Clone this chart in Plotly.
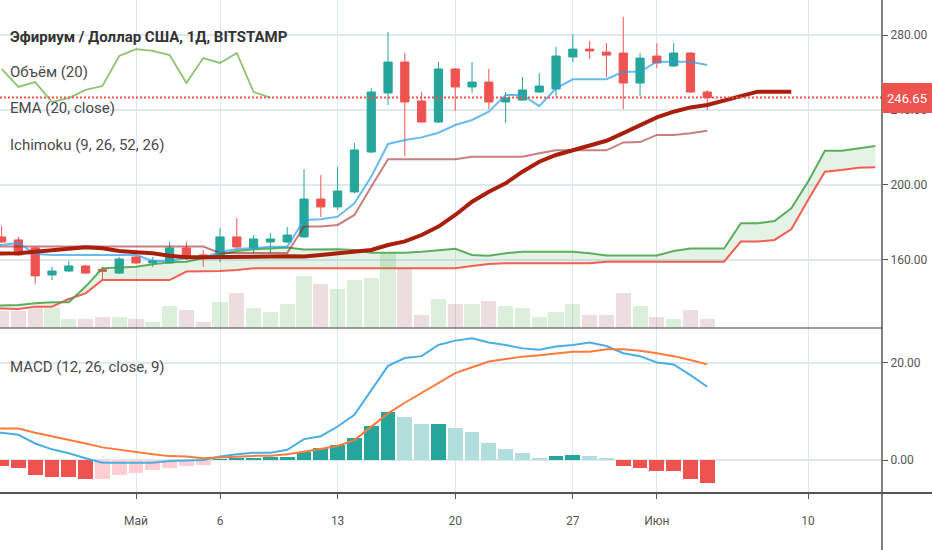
import pandas as pd
import plotly.graph_objects as go

# ---------------- data ----------------
candle_dates = pd.date_range("2019-04-23", periods=43, freq="D")          # Apr 23 .. Jun 4
open_ = [172.3, 170.7, 166.4, 152.0, 154.1, 156.8, 155.0, 153.0, 161.6, 158.4,
         158.4, 166.4, 162.7, 161.1, 172.3, 166.4, 169.6, 169.6, 172.3, 192.5,
         188.3, 196.3, 217.6, 249.1, 265.6, 244.8, 233.6, 261.9, 252.3, 254.9,
         244.3, 245.3, 249.6, 251.2, 268.3, 272.5, 270.9, 270.4, 254.4, 268.8,
         263.5, 270.4, 249.6]
high = [178.1, 172.3, 166.9, 156.3, 159.5, 157.3, 156.3, 161.6, 162.0, 161.6,
        169.6, 169.6, 165.3, 177.1, 182.4, 173.3, 174.4, 177.6, 208.5, 205.3,
        209.6, 222.4, 251.7, 281.6, 270.4, 249.6, 265.6, 262.4, 265.6, 261.9,
        249.6, 257.6, 259.7, 273.6, 280.5, 276.8, 275.7, 289.6, 270.4, 275.7,
        275.7, 270.9, 250.7]
low = [169.1, 162.1, 147.2, 149.3, 153.6, 152.5, 149.3, 152.5, 157.9, 156.3,
       157.9, 160.0, 156.3, 158.9, 166.4, 163.7, 163.7, 169.1, 171.8, 182.9,
       186.7, 195.5, 217.0, 242.7, 215.5, 233.1, 233.1, 239.5, 249.1, 240.5,
       233.1, 244.8, 249.1, 246.9, 265.6, 267.2, 257.6, 240.5, 247.5, 262.4,
       263.0, 249.1, 240.0]
close = [169.6, 162.7, 151.5, 154.1, 156.8, 153.0, 153.9, 160.5, 158.4, 159.5,
         166.4, 161.6, 161.6, 172.3, 166.9, 171.2, 171.2, 173.3, 192.5, 188.3,
         196.8, 218.7, 249.6, 265.6, 244.3, 233.6, 261.9, 252.3, 254.9, 244.3,
         246.4, 250.7, 252.8, 268.8, 272.5, 271.5, 269.3, 254.4, 267.7, 265.1,
         270.4, 249.6, 246.65]
volume = [34, 34, 40, 40, 18, 18, 22, 22, 18, 12,
          44, 36, 12, 52, 70, 40, 32, 48, 104, 88,
          78, 96, 100, 152, 118, 26, 58, 48, 48, 54,
          44, 40, 22, 32, 48, 26, 26, 70, 44, 22,
          18, 36, 18]                                   # thousand ETH

line_dates = pd.date_range("2019-04-22", periods=44, freq="D")            # Apr 22 .. Jun 4
ema_dates = pd.date_range("2019-04-22", periods=49, freq="D")             # Apr 22 .. Jun 9
lead_dates = pd.date_range("2019-04-22", periods=54, freq="D")            # Apr 22 .. Jun 14

ema20 = [163.4, 163.6, 163.6, 164.4, 165.3, 165.9, 166.8, 166.2, 164.8, 164.1,
         163.6, 162.3, 161.4, 161.4, 161.4, 161.8, 161.8, 161.8, 162.0, 161.9,
         162.7, 163.5, 164.4, 165.3, 168.0, 169.9, 173.3, 177.8, 184.0, 191.1,
         196.4, 200.9, 207.1, 212.4, 216.0, 218.7, 221.3, 223.6, 227.7, 232.0,
         236.1, 239.1, 241.4, 242.7, 245.0, 247.5, 249.8, 249.8, 249.8]
tenkan = [168.0, 168.0, 169.1, 163.2, 162.7, 162.7, 162.7, 162.7, 162.7, 162.7,
          159.5, 159.5, 161.1, 161.1, 164.3, 165.9, 166.4, 167.0, 167.0, 181.3,
          181.7, 183.1, 190.2, 204.4, 221.9, 224.0, 225.4, 227.9, 232.0, 234.7,
          239.1, 248.0, 248.0, 242.1, 251.6, 256.4, 256.4, 256.4, 260.4, 260.4,
          265.8, 265.8, 265.8, 264.0]
kijun = [167.2, 167.2, 167.2, 167.2, 167.2, 167.2, 167.2, 167.2, 167.2, 167.2,
         167.2, 167.2, 167.2, 167.2, 163.7, 163.7, 163.7, 163.7, 163.7, 177.8,
         177.8, 178.7, 184.0, 199.1, 213.7, 213.7, 213.7, 213.7, 213.7, 215.1,
         215.1, 215.1, 215.1, 216.9, 218.5, 218.5, 218.5, 218.5, 222.7, 222.9,
         226.7, 226.7, 227.6, 229.0]
lead_a = [135.5, 135.6, 136.0, 136.9, 137.4, 137.4, 145.8, 155.6, 155.9, 156.4,
          157.7, 158.8, 159.1, 160.9, 163.0, 164.8, 165.7, 166.2, 166.6, 165.6,
          165.7, 165.7, 165.3, 163.9, 163.9, 163.9, 164.4, 165.3, 166.0, 162.7,
          162.3, 163.6, 164.4, 164.4, 164.4, 164.4, 163.6, 162.4, 162.4, 162.4,
          162.4, 164.8, 166.1, 166.1, 166.1, 179.6, 179.6, 180.8, 187.6, 201.8,
          218.3, 218.3, 219.6, 220.8]
lead_b = [134.3, 134.2, 133.9, 135.1, 135.1, 139.2, 142.2, 149.3, 149.3, 149.3,
          149.3, 149.3, 153.8, 153.8, 154.1, 154.7, 155.6, 155.6, 155.6, 155.6,
          155.6, 155.6, 155.6, 155.6, 155.6, 155.6, 155.6, 155.6, 155.6, 156.8,
          157.9, 158.2, 158.2, 158.2, 158.2, 158.2, 158.2, 159.1, 159.1, 159.1,
          159.1, 159.1, 159.1, 159.1, 159.1, 169.8, 169.8, 170.7, 176.4, 192.0,
          207.1, 208.0, 209.2, 209.4]
lag_shift = 26

macd = [5.7, 5.6, 5.2, 3.4, 2.2, 1.4, 0.35, -0.55, -0.55, -0.55,
        -0.55, -0.2, -0.15, 0.0, 0.7, 1.2, 1.5, 1.5, 2.1, 4.3,
        4.9, 6.9, 9.3, 14.4, 19.4, 21.0, 21.4, 23.7, 24.6, 25.1,
        24.2, 23.7, 23.0, 22.7, 23.4, 23.7, 24.2, 23.5, 22.0, 21.4,
        20.1, 19.7, 17.5, 15.1]
signal = [6.5, 6.5, 6.5, 5.6, 4.9, 4.1, 3.4, 2.6, 2.1, 1.7,
          1.2, 0.8, 0.7, 0.35, 0.55, 0.8, 0.85, 0.9, 1.2, 1.7,
          2.3, 2.9, 4.1, 6.9, 9.6, 11.8, 13.8, 15.8, 17.9, 19.1,
          20.3, 20.8, 21.3, 21.6, 22.0, 22.3, 22.3, 22.8, 22.8, 22.5,
          22.0, 21.4, 20.6, 19.7]
hist = [-1.2, -1.7, -3.1, -3.4, -3.45, -4.0, -3.9, -3.1, -2.6, -2.1,
        -1.7, -1.2, -1.0, 0.1, 0.4, 0.5, 0.6, 0.7, 1.7, 2.4,
        3.1, 4.5, 7.1, 9.8, 8.8, 7.4, 7.5, 6.6, 5.7, 3.6,
        2.3, 1.4, 0.5, 0.9, 0.95, 0.85, 0.5, -1.2, -1.7, -2.2,
        -2.25, -4.0, -4.8]

x_tick_dates = ["2019-05-01", "2019-05-06", "2019-05-13", "2019-05-20",
                "2019-05-27", "2019-06-01", "2019-06-10"]
x_tick_text = ["Май", "6", "13", "20", "27", "Июн", "10"]
price_ticks = [160, 200, 240, 280]
macd_ticks = [0, 20]
last_price = 246.65
x_range = ["2019-04-22 21:43", "2019-06-14 09:36"]
price_range = [123.7, 298.7]
macd_range = [-6.8, 27.2]

legend_lines = ["Объём (20)", "EMA (20, close)", "Ichimoku (9, 26, 52, 26)"]
title_text = "Эфириум / Доллар США, 1Д, BITSTAMP"
macd_text = "MACD (12, 26, close, 9)"

# ---------------- styling ----------------
UP, DOWN = "#26a69a", "#ef5350"
GRID = "#dde8f0"
FONT = "Roboto, sans-serif"
TXT = "#4a4a4a"
DAY_MS = 86400000
PLOT_H = 493
split = (PLOT_H - 328) / PLOT_H

fig = go.Figure()

# Ichimoku cloud (leading spans)
fig.add_trace(go.Scatter(x=lead_dates, y=lead_b, mode="lines",
                         line=dict(color="rgba(244,67,54,0.85)", width=2), hoverinfo="skip"))
fig.add_trace(go.Scatter(x=lead_dates, y=lead_a, mode="lines", fill="tonexty",
                         fillcolor="rgba(76,175,80,0.15)",
                         line=dict(color="rgba(67,160,71,0.85)", width=2), hoverinfo="skip"))
# lagging span
fig.add_trace(go.Scatter(x=candle_dates[:-lag_shift], y=close[lag_shift:], mode="lines",
                         line=dict(color="rgba(69,153,21,0.6)", width=1.8)))
# base line / conversion line
fig.add_trace(go.Scatter(x=line_dates, y=kijun, mode="lines",
                         line=dict(color="rgba(153,21,21,0.55)", width=2)))
fig.add_trace(go.Scatter(x=line_dates, y=tenkan, mode="lines",
                         line=dict(color="rgba(40,160,230,0.7)", width=2)))
# candles
fig.add_trace(go.Candlestick(x=candle_dates, open=open_, high=high, low=low, close=close,
                             increasing=dict(line=dict(color=UP, width=1), fillcolor=UP),
                             decreasing=dict(line=dict(color=DOWN, width=1), fillcolor=DOWN),
                             whiskerwidth=0))
# EMA 20
fig.add_trace(go.Scatter(x=ema_dates, y=ema20, mode="lines",
                         line=dict(color="#a8200d", width=4)))
# volume (overlay axis)
vol_colors = ["rgba(76,175,80,0.2)" if c >= o else "rgba(160,90,90,0.2)"
              for o, c in zip(open_, close)]
fig.add_trace(go.Bar(x=candle_dates, y=volume, yaxis="y3", marker=dict(color=vol_colors, line=dict(width=0)),
                     width=0.9 * DAY_MS))

# MACD histogram
hcol = []
for i, h in enumerate(hist):
    prev = hist[i - 1] if i > 0 else h
    if h >= 0:
        hcol.append("#26a69a" if h >= prev else "#b2dfdb")
    else:
        hcol.append("#ef5350" if h < prev or i == 0 else "#ffcdd2")
fig.add_trace(go.Bar(x=candle_dates, y=hist, yaxis="y2", marker=dict(color=hcol, line=dict(width=0)),
                     width=0.88 * DAY_MS))
fig.add_trace(go.Scatter(x=line_dates, y=macd, yaxis="y2", mode="lines",
                         line=dict(color="#4aaee6", width=2)))
fig.add_trace(go.Scatter(x=line_dates, y=signal, yaxis="y2", mode="lines",
                         line=dict(color="#ff7a3c", width=2)))

tickfont = dict(family=FONT, size=12, color="#555")
fig.update_layout(
    width=932, height=550,
    margin=dict(l=0, r=50, t=0, b=57),
    paper_bgcolor="white", plot_bgcolor="white",
    showlegend=False, bargap=0, hovermode=False,
    xaxis=dict(type="date", range=x_range, anchor="y2",
               tickvals=x_tick_dates, ticktext=x_tick_text,
               ticks="outside", ticklen=5, tickcolor="#555", tickwidth=1,
               showgrid=True, gridcolor=GRID, gridwidth=1,
               showline=False, zeroline=False, tickfont=tickfont,
               ticklabelstandoff=12, automargin=False,
               rangeslider=dict(visible=False)),
    yaxis=dict(domain=[split, 1], range=price_range, side="right", anchor="x",
               tickvals=price_ticks, ticktext=[f"{v:.2f}" for v in price_ticks],
               ticks="outside", ticklen=5, tickcolor="#555", automargin=False,
               showgrid=True, gridcolor=GRID, gridwidth=1.5,
               zeroline=False, showline=False, tickfont=tickfont),
    yaxis2=dict(domain=[0, split], range=macd_range, side="right", anchor="x",
                tickvals=macd_ticks, ticktext=[f"{v:.2f}" for v in macd_ticks],
                ticks="outside", ticklen=5, tickcolor="#555", automargin=False,
                showgrid=True, gridcolor=GRID, gridwidth=1.5,
                zeroline=False, showline=False, tickfont=tickfont),
    yaxis3=dict(overlaying="y", range=[0, 656], visible=False, anchor="x"),
)

# last price dotted line
fig.add_shape(type="line", xref="paper", x0=0, x1=1, yref="y", y0=last_price, y1=last_price,
              line=dict(color="#ef5350", width=2, dash="2px,2px"))
# panel separator, bottom axis line, right axis line
fig.add_shape(type="line", xref="paper", x0=0, x1=1, yref="paper", y0=split, y1=split,
              line=dict(color="#7a7a7a", width=1.5))
fig.add_shape(type="line", xref="paper", x0=0, x1=932 / 882, yref="paper", y0=0, y1=0,
              line=dict(color="#555", width=2))
fig.add_shape(type="line", xref="paper", x0=1, x1=1, yref="paper", y0=-57 / PLOT_H, y1=1,
              line=dict(color="#555", width=1.5))

# legend texts
def ypix(p):
    return (PLOT_H - p) / PLOT_H

fig.add_annotation(text=title_text, xref="paper", yref="paper", x=8 / 882, y=ypix(37),
                   xanchor="left", yanchor="middle", showarrow=False,
                   font=dict(family=FONT, size=15, color="#333", weight="bold"))
for txt, yp in zip(legend_lines, [72, 108, 145]):
    fig.add_annotation(text=txt, xref="paper", yref="paper", x=8 / 882, y=ypix(yp),
                       xanchor="left", yanchor="middle", showarrow=False,
                       font=dict(family=FONT, size=15, color=TXT))
fig.add_annotation(text=macd_text, xref="paper", yref="paper", x=8 / 882, y=ypix(367),
                   xanchor="left", yanchor="middle", showarrow=False,
                   font=dict(family=FONT, size=15, color=TXT))
# last price label (covers the 240.00 tick label like in the reference)
fig.add_annotation(text=f"{last_price:.2f}", xref="paper", x=1, xanchor="left",
                   yref="y", y=last_price, yanchor="middle", showarrow=False,
                   bgcolor="#ef5350", borderpad=0, borderwidth=0, width=50, height=30,
                   font=dict(family=FONT, size=13, color="white"))

fig.write_html("out.html", config={"displayModeBar": False},
               post_script="document.body.style.margin='0';")
